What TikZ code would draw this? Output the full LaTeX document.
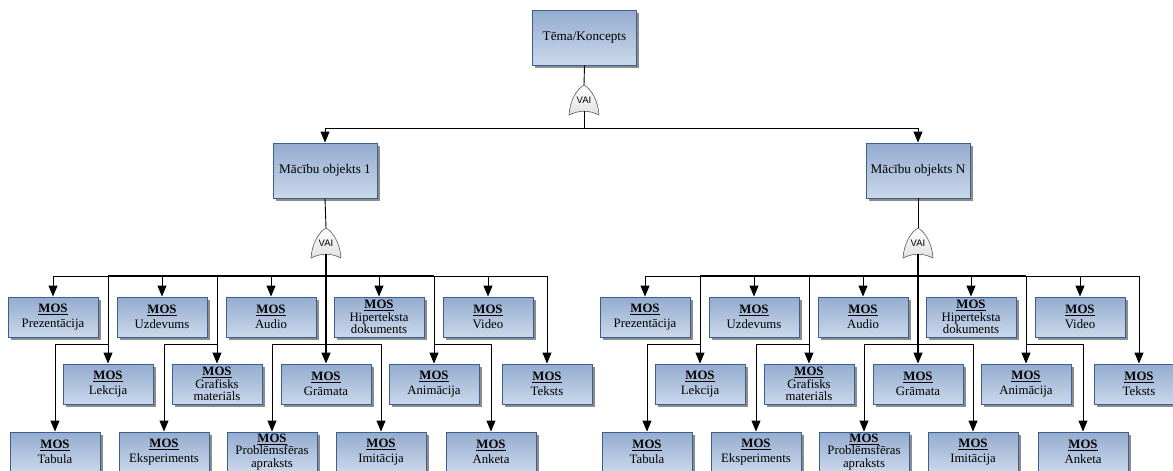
\documentclass[tikz,border=0pt]{standalone}
\usepackage{fontspec}
\setmainfont{Liberation Serif}
\setsansfont{Liberation Sans}
\usetikzlibrary{arrows.meta,shadows,calc}
\definecolor{topc}{RGB}{148,172,207}
\definecolor{botc}{RGB}{202,216,235}
\definecolor{bordc}{RGB}{58,95,145}
\definecolor{gatec}{RGB}{90,90,90}
\tikzset{
  box/.style={rectangle, draw=bordc, line width=0.9pt, top color=topc, bottom color=botc,
    align=center, inner sep=1pt, text=black,
    drop shadow={shadow xshift=2.5pt, shadow yshift=-2.5pt, fill=black, opacity=0.45}},
  mos/.style={box, minimum width=90, minimum height=40, font=\fontsize{12.8}{15}\selectfont},
  mos3/.style={mos, font=\fontsize{12.8}{12.3}\selectfont},
  topbox/.style={box, minimum width=104, minimum height=55, font=\fontsize{13.2}{15}\selectfont},
  gatenode/.style={inner sep=0pt, minimum width=30, minimum height=30, font=\sffamily\fontsize{9.5}{10}\selectfont},
  gatestyle/.style={draw=gatec, line width=0.6pt, top color=white, bottom color=black!12},
  conn/.style={line width=0.9pt, black},
  arr/.style={conn, -{Triangle[length=11pt,width=9pt]}},
}
\newcommand{\M}{\textbf{\underline{MOS}}}
\newcommand{\gateshape}[1]{%
  \draw[gatestyle] ($(#1)+(-15,15)$) .. controls ($(#1)+(-14,0)$) and ($(#1)+(-7,-11)$) .. ($(#1)+(0,-15)$)
    .. controls ($(#1)+(7,-11)$) and ($(#1)+(14,0)$) .. ($(#1)+(15,15)$)
    .. controls ($(#1)+(5,10)$) and ($(#1)+(-5,10)$) .. cycle;
  \node[gatenode] at (#1) {VAI};%
}
\newcommand{\mosgroup}[3]{% #1 suffix, #2 x offset, #3 parent
  \node[gatenode] (g#1) at ({#2+326},243) {};
  \gateshape{g#1}
  \coordinate (g#1o) at ({#2+326},254);
  \draw[conn] (#3.south) -- (g#1.north);
  % row 1
  \node[mos] (pre#1) at ({#2+53},317) {\M\\Prezentācija};
  \node[mos] (uzd#1) at ({#2+162},317) {\M\\Uzdevums};
  \node[mos] (aud#1) at ({#2+271},317) {\M\\Audio};
  \node[mos3] (hip#1) at ({#2+379},317) {\M\\Hiperteksta\\dokuments};
  \node[mos] (vid#1) at ({#2+488},317) {\M\\Video};
  % row 2
  \node[mos] (lek#1) at ({#2+108},384) {\M\\Lekcija};
  \node[mos3] (gra#1) at ({#2+217},384) {\M\\Grafisks\\materiāls};
  \node[mos] (gram#1) at ({#2+326},384) {\M\\Grāmata};
  \node[mos] (ani#1) at ({#2+434},384) {\M\\Animācija};
  \node[mos] (tek#1) at ({#2+547},384) {\M\\Teksts};
  % row 3
  \node[mos] (tab#1) at ({#2+55},452) {\M\\Tabula};
  \node[mos] (eks#1) at ({#2+164},452) {\M\\Eksperiments};
  \node[mos3] (pro#1) at ({#2+272},452) {\M\\Problēmsfēras\\apraksts};
  \node[mos] (imi#1) at ({#2+381},452) {\M\\Imitācija};
  \node[mos] (ank#1) at ({#2+491},452) {\M\\Anketa};
  % connectors
  \foreach \c in {pre,uzd,aud,hip,vid,lek,gra,ani,tek}
    {\draw[arr] (g#1o) -- ++(0,22) -| (\c#1.north);}
  \draw[arr, line width=1.4pt] (g#1o) -- (gram#1.north);
  \draw[conn, line width=1.5pt] (lek#1.north |- g#1o) ++(0,22) -- ($(ani#1.north |- g#1o)+(0,22)$);
  \draw[arr] ([yshift=19pt]lek#1.north) -| (tab#1.north);
  \draw[arr] ([yshift=19pt]gra#1.north) -| (eks#1.north);
  \draw[arr] ([yshift=19pt]gram#1.north) -| (pro#1.north);
  \draw[arr] ([yshift=19pt]gram#1.north) -| (imi#1.north);
  \draw[arr] ([yshift=19pt]ani#1.north) -| (ank#1.north);
}
\begin{document}
\begin{tikzpicture}[x=1pt,y=-1pt]
\useasboundingbox (0,0) rectangle (1173,471);
\node[topbox] (tema) at (584.5,37.5) {Tēma/Koncepts};
\node[gatenode] (g0) at (584,100) {};
\gateshape{g0}
\coordinate (g0o) at (584,111);
\draw[conn] (tema.south) -- (g0.north);
\node[topbox] (m1) at (325,170.5) {Mācību objekts 1};
\node[topbox] (mN) at (918,170.5) {Mācību objekts N};
\draw[arr] (g0o) -- ++(0,17) -| (m1.north);
\draw[arr] (g0o) -- ++(0,17) -| (mN.north);
\mosgroup{a}{0}{m1}
\mosgroup{b}{592}{mN}
\end{tikzpicture}
\end{document}
